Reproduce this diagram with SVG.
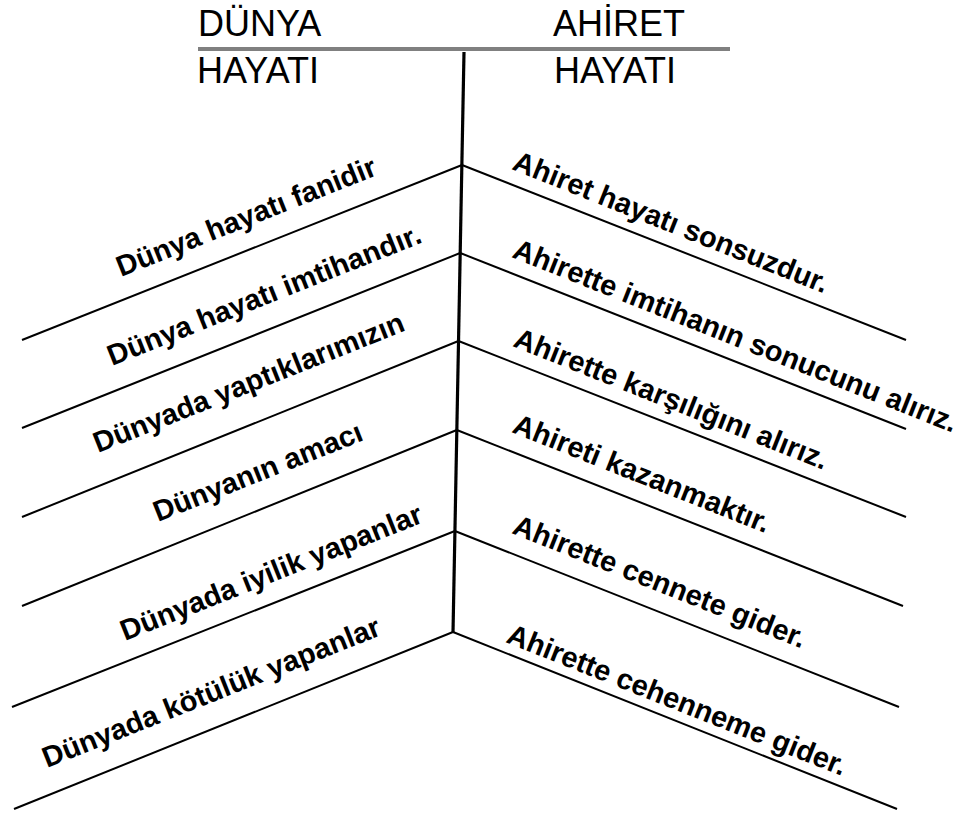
<svg xmlns="http://www.w3.org/2000/svg" width="963" height="814" viewBox="0 0 963 814">
<style>
.hdr{font-family:"Liberation Sans",Arial,Helvetica,sans-serif;font-size:36px;fill:#000}
.lbl{font-family:"Liberation Sans",Arial,Helvetica,sans-serif;font-size:29px;font-weight:bold;fill:#000}
.ln{stroke:#000;stroke-width:2;fill:none}
.spine{stroke:#000;stroke-width:3.2;fill:none}
.rule{stroke:#808080;stroke-width:4;fill:none}
</style>
<rect width="963" height="814" fill="#fff"/>
<g id="header">
<text class="hdr" x="198" y="36">DÜNYA</text>
<text class="hdr" x="197" y="83">HAYATI</text>
<text class="hdr" x="553" y="36">AHİRET</text>
<text class="hdr" x="554" y="83">HAYATI</text>
</g>
<g id="connectors">
<line class="rule" x1="198" y1="49" x2="730" y2="49"/>
<line class="spine" x1="464" y1="52" x2="453" y2="633"/>
<line class="ln" x1="462" y1="165" x2="22" y2="340"/>
<line class="ln" x1="460.2" y1="253" x2="22" y2="428"/>
<line class="ln" x1="458.5" y1="341" x2="22" y2="517"/>
<line class="ln" x1="456.8" y1="430" x2="22" y2="606"/>
<line class="ln" x1="454.9" y1="531" x2="12" y2="707"/>
<line class="ln" x1="453" y1="632" x2="14" y2="809"/>
<line class="ln" x1="462" y1="165" x2="906" y2="340"/>
<line class="ln" x1="460.2" y1="253" x2="906" y2="429"/>
<line class="ln" x1="458.5" y1="341" x2="906" y2="517"/>
<line class="ln" x1="456.8" y1="430" x2="903" y2="606"/>
<line class="ln" x1="454.9" y1="531" x2="899" y2="707"/>
<line class="ln" x1="453" y1="632" x2="897" y2="809"/>
</g>
<g id="left1"><text class="lbl" transform="translate(121,277) rotate(-21.7)">Dünya hayatı fanidir</text></g>
<g id="left2"><text class="lbl" transform="translate(112,366) rotate(-21.7)">Dünya hayatı imtihandır.</text></g>
<g id="left3"><text class="lbl" transform="translate(98,453) rotate(-21.7)">Dünyada yaptıklarımızın</text></g>
<g id="left4"><text class="lbl" transform="translate(158,522) rotate(-21.7)">Dünyanın amacı</text></g>
<g id="left5"><text class="lbl" transform="translate(125,641) rotate(-21.7)">Dünyada iyilik yapanlar</text></g>
<g id="left6"><text class="lbl" transform="translate(47,768) rotate(-21.7)">Dünyada kötülük yapanlar</text></g>
<g id="right1"><text class="lbl" transform="translate(511,169) rotate(21.7)">Ahiret hayatı sonsuzdur.</text></g>
<g id="right2"><text class="lbl" transform="translate(511,257) rotate(21.7)">Ahirette imtihanın sonucunu alırız.</text></g>
<g id="right3"><text class="lbl" transform="translate(512,346) rotate(21.7)">Ahirette karşılığını alırız.</text></g>
<g id="right4"><text class="lbl" transform="translate(511,432) rotate(21.7)">Ahireti kazanmaktır.</text></g>
<g id="right5"><text class="lbl" transform="translate(511,533) rotate(21.7)">Ahirette cennete gider.</text></g>
<g id="right6"><text class="lbl" transform="translate(505,642) rotate(21.7)">Ahirette cehenneme gider.</text></g>
</svg>
